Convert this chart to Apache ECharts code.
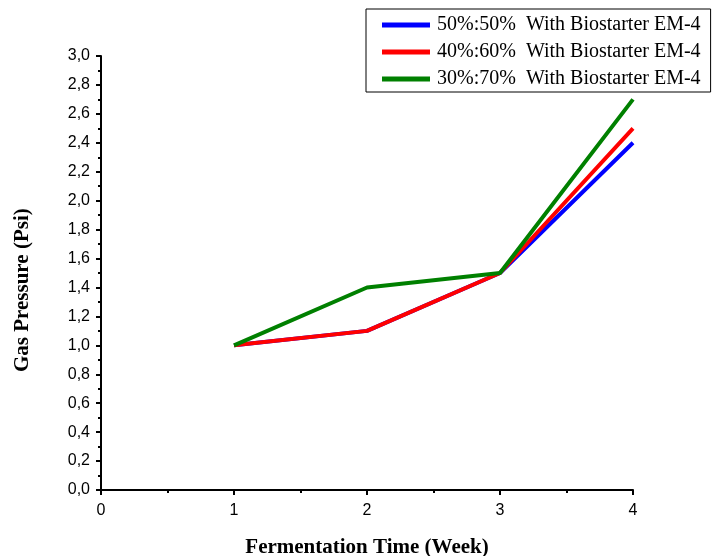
<!DOCTYPE html>
<html>
<head>
<meta charset="utf-8">
<script src="https://cdn.jsdelivr.net/npm/echarts@6/dist/echarts.min.js"></script>
<style>
  html, body { margin: 0; padding: 0; background: #fff; }
  #main { width: 716px; height: 556px; }
</style>
</head>
<body>
<div id="main"></div>
<script>
// data
const weeks = [1, 2, 3, 4]
const seriesNames = [
  '50%:50%  With Biostarter EM-4',
  '40%:60%  With Biostarter EM-4',
  '30%:70%  With Biostarter EM-4'
]
const ratio50 = [1.0, 1.1, 1.5, 2.4]
const ratio40 = [1.0, 1.1, 1.5, 2.5]
const ratio30 = [1.0, 1.4, 1.5, 2.7]
const colors = ['#0000ff', '#ff0000', '#008000']

const allValues = [ratio50, ratio40, ratio30]

let myChart = echarts.init(document.getElementById('main'))

const option = {
  animation: false,
  grid: { left: 101, right: 83, top: 56, bottom: 66, outerBoundsMode: 'none', containLabel: false },
  legend: {
    orient: 'vertical',
    left: 366,
    top: 9,
    padding: [6, 10, 3, 16],
    borderColor: '#000',
    borderWidth: 1,
    itemWidth: 48,
    itemHeight: 5,
    itemGap: 7,
    icon: 'rect',
    textStyle: { fontFamily: 'Liberation Serif', fontSize: 20, color: '#000', padding: [0, 0, 0, 2] },
    data: seriesNames
  },
  xAxis: {
    type: 'value',
    min: 0,
    max: 4,
    interval: 1,
    splitLine: { show: false },
    axisLine: { onZero: false, lineStyle: { color: '#000', width: 2 } },
    axisTick: { length: 5, lineStyle: { color: '#000', width: 2 } },
    minorTick: { show: true, splitNumber: 2, length: 3, lineStyle: { color: '#000', width: 2 } },
    axisLabel: { fontFamily: 'Liberation Sans', fontSize: 16, color: '#000', margin: 13 },
    name: 'Fermentation Time (Week)',
    nameLocation: 'middle',
    nameGap: 47,
    nameTextStyle: { fontFamily: 'Liberation Serif', fontSize: 21, fontWeight: 'bold', color: '#000' }
  },
  yAxis: {
    type: 'value',
    min: 0,
    max: 3,
    interval: 0.2,
    splitLine: { show: false },
    axisLine: { show: true, lineStyle: { color: '#000', width: 2 } },
    axisTick: { show: true, length: 5, lineStyle: { color: '#000', width: 2 } },
    minorTick: { show: true, splitNumber: 2, length: 3, lineStyle: { color: '#000', width: 2 } },
    axisLabel: {
      fontFamily: 'Liberation Sans', fontSize: 16, color: '#000', margin: 11,
      formatter: v => v.toFixed(1).replace('.', ',')
    }
  },
  graphic: [{
    type: 'text',
    x: 12,
    y: 372,
    rotation: Math.PI / 2,
    style: {
      text: 'Gas Pressure (Psi)',
      font: 'bold 21px "Liberation Serif"',
      fill: '#000'
    }
  }],
  series: seriesNames.map((name, i) => ({
    name: name,
    type: 'line',
    symbol: 'none',
    color: colors[i],
    lineStyle: { width: 4, color: colors[i] },
    z: 2 + i,
    data: weeks.map((w, j) => [w, allValues[i][j]])
  }))
}

myChart.setOption(option)
</script>
</body>
</html>
